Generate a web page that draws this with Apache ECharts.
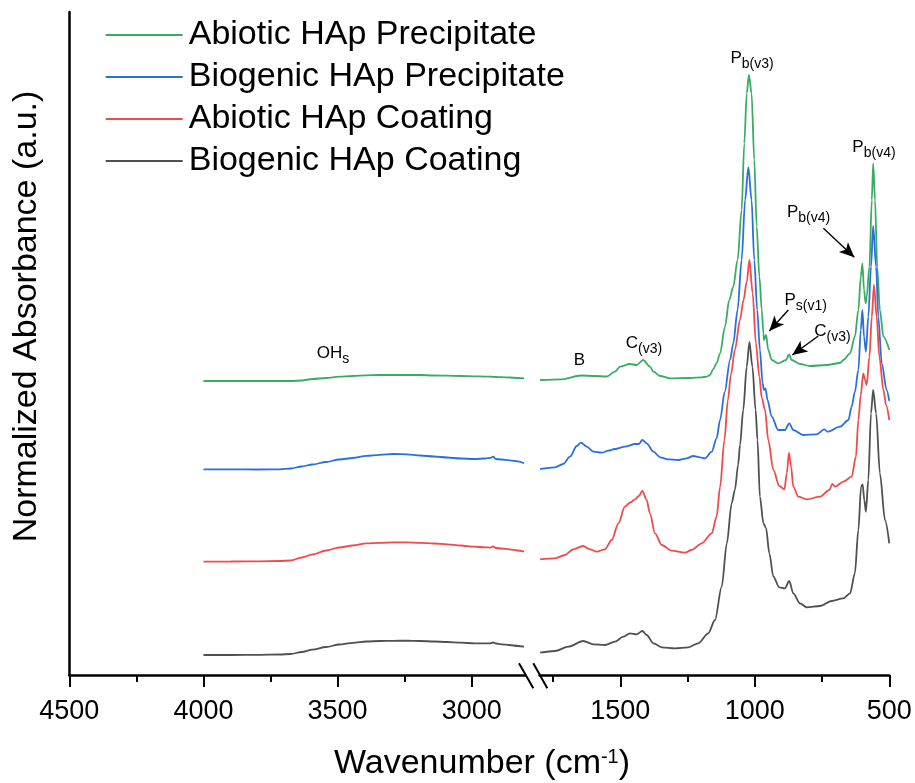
<!DOCTYPE html>
<html>
<head>
<meta charset="utf-8">
<script src="https://cdn.jsdelivr.net/npm/echarts@6/dist/echarts.min.js"></script>
<style>
  html, body { margin: 0; padding: 0; background: #ffffff; }
  #chart { width: 915px; height: 783px; }
</style>
</head>
<body>
<div id="chart"></div>
<script>
const FONT = "'Liberation Sans', Arial, Helvetica, sans-serif";

const seriesNames = ['Abiotic HAp Precipitate', 'Biogenic HAp Precipitate', 'Abiotic HAp Coating', 'Biogenic HAp Coating'];
const seriesColors = ['#38ad62', '#2a6fe0', '#f04a4a', '#505050'];

// O-H stretching window (4000-2800 cm-1): shared wavenumbers, stacked absorbance per sample
const highWavenumbers = [4000, 3896, 3796, 3715, 3675, 3634, 3594, 3543, 3494, 3443, 3393, 3343, 3293, 3242, 3192, 3141, 3091, 3041, 2990, 2950, 2930, 2920, 2910, 2889, 2859, 2828, 2805];
const highAbioticPrecipitate = [294, 294, 294, 294, 294, 294.5, 296, 297, 298.3, 299, 299.7, 300, 300, 300, 300, 299.5, 299.3, 299, 298.7, 298.4, 298.3, 298.2, 298, 297.8, 297.5, 297, 296.7];
const highBiogenicPrecipitate = [205.7, 205.7, 205.5, 205.7, 206.5, 208.5, 210.5, 213, 215.5, 217, 219.2, 220.2, 221, 220.7, 219.5, 218.5, 217.5, 216.5, 216, 216.5, 217.2, 218.3, 216, 215.5, 214.7, 213.7, 211.7];
const highAbioticCoating = [113.3, 113.5, 113.7, 114, 114.5, 117.5, 120.5, 124.5, 127.5, 129.5, 131.7, 132.2, 132.7, 132.7, 132.2, 131.5, 130.7, 129.5, 128.3, 127.7, 127.4, 128.5, 127, 126.5, 125.7, 124.5, 123.3];
const highBiogenicCoating = [20, 20, 20.2, 20.5, 21, 23, 25.3, 28, 30.5, 32.2, 33.5, 34, 34.2, 34.3, 34, 33.5, 33, 32.3, 31.7, 31.6, 31.7, 32.5, 31.5, 30.7, 30, 29, 28.3];

// fingerprint window (1800-500 cm-1): [wavenumber, stacked absorbance]
const lowAbioticPrecipitate = [
  [1798, 295], [1718, 295.7], [1646, 299.5], [1594, 299], [1551, 298.5], [1520, 303.3], [1501, 308.3], [1464, 311],
  [1439, 310], [1415, 315], [1390, 308.3], [1377, 303.3], [1352, 299], [1315, 296.7], [1241, 297], [1197, 297.7],
  [1179, 298.3], [1167, 300], [1154, 306], [1142, 312], [1129, 321.7], [1111, 348.3], [1095, 375], [1080, 388.3],
  [1064, 415], [1049, 465], [1039, 531.7], [1030, 581.7], [1022, 600], [1012, 581.7], [1002, 515], [993, 448.3],
  [983, 398.3], [974, 365], [968, 341.7], [966, 335], [958, 340], [950, 325], [937, 315], [913, 311.7],
  [884, 315], [873, 320.7], [863, 315], [832, 311], [795, 309], [733, 310], [683, 312], [671, 315],
  [646, 321.7], [628, 338.3], [615, 365], [606, 398.3], [600, 411.7], [594, 385], [588, 371.7], [584, 378.3],
  [574, 408.3], [565, 475], [560, 511.7], [553, 475], [545, 408.3], [535, 365], [522, 338.3], [500, 325]
];
const lowBiogenicPrecipitate = [
  [1798, 206], [1743, 207.7], [1712, 211], [1687, 218.3], [1662, 229], [1646, 232.3], [1625, 228.3], [1600, 223.3],
  [1569, 222.3], [1545, 224.3], [1520, 226], [1483, 228.3], [1445, 231], [1431, 231], [1418, 235], [1402, 231.7],
  [1377, 223.3], [1352, 217.7], [1322, 215.7], [1284, 215], [1253, 216.7], [1229, 219], [1204, 217.7], [1185, 216.7],
  [1160, 223.3], [1142, 236.7], [1129, 255], [1112, 283], [1092, 315], [1080, 331.7], [1064, 365], [1049, 415],
  [1036, 475], [1024, 507.7], [1012, 475], [1002, 415], [991, 365], [981, 325], [971, 291.7], [966, 285],
  [960, 286.5], [953, 275], [937, 258.3], [913, 245], [888, 245], [872, 251.7], [857, 245], [820, 240],
  [770, 240.7], [742, 245.7], [730, 243.3], [683, 248.3], [652, 255], [640, 268.3], [628, 283], [615, 305],
  [606, 345], [600, 365], [594, 338.3], [587, 323.3], [578, 358.3], [568, 408.3], [560, 449], [549, 408.3],
  [541, 358.3], [528, 311.7], [510, 285], [500, 274]
];
const lowAbioticCoating = [
  [1798, 115.7], [1743, 116.7], [1706, 120], [1675, 125.7], [1638, 129], [1613, 125.7], [1588, 123.3], [1557, 125.7],
  [1532, 135], [1507, 151.7], [1483, 168.3], [1464, 172.3], [1445, 175.7], [1431, 179], [1418, 184], [1402, 175],
  [1390, 161.7], [1371, 141.7], [1346, 130], [1309, 124.3], [1260, 122.3], [1235, 125], [1197, 131.7], [1160, 141.7],
  [1142, 158.3], [1129, 188.3], [1113, 235], [1100, 275], [1089, 300], [1074, 325], [1055, 355], [1042, 375],
  [1030, 393], [1020, 415], [1008, 381.7], [996, 331.7], [983, 298.3], [974, 277], [962, 265], [950, 235],
  [931, 205], [909, 189], [890, 185.7], [881, 201.7], [873, 222.3], [865, 208.3], [857, 188.3], [838, 178.3],
  [807, 175.7], [758, 178.3], [723, 185], [712, 191], [702, 188.3], [671, 193.3], [640, 198.3], [624, 218.3],
  [615, 255], [606, 280], [597, 301.7], [590, 295], [584, 290], [574, 318.3], [565, 358.3], [557, 390],
  [547, 358.3], [537, 318.3], [522, 285], [512, 270], [500, 255]
];
const lowBiogenicCoating = [
  [1798, 22.3], [1743, 24], [1693, 28.3], [1638, 34], [1600, 30.7], [1557, 30], [1520, 33.3], [1489, 38.3],
  [1464, 41.7], [1439, 40.7], [1418, 44], [1402, 40], [1377, 31.7], [1346, 27.7], [1297, 26.7], [1247, 27.7],
  [1210, 31.7], [1173, 41.7], [1148, 55], [1123, 88.3], [1104, 131.7], [1086, 171.7], [1074, 185], [1062, 210],
  [1055, 230], [1043, 265], [1030, 308.3], [1020, 333], [1009, 308.3], [997, 265], [990, 235], [981, 178.3],
  [968, 151.7], [958, 146.7], [946, 121.7], [931, 98.3], [909, 87.7], [888, 86.7], [872, 94], [857, 81.7],
  [832, 71.7], [807, 67.7], [758, 69], [714, 74], [671, 76.7], [646, 81.7], [628, 101.7], [615, 145],
  [605, 188.3], [599, 190.7], [593, 175], [587, 163.3], [578, 195], [568, 261.7], [560, 285], [549, 261.7],
  [535, 201.7], [516, 155], [500, 131.7]
];

const majorTicksHigh = [3000, 3500, 4000, 4500];
const minorTicksHigh = [3250, 3750, 4250];
const majorTicksLow = [500, 1000, 1500];
const minorTicksLow = [750, 1250, 1750];

// band assignments: [symbol, subscript, wavenumber, absorbance]
const highBandLabels = [['OH', 's', 3517, 321]];
const lowBandLabels = [
  ['B', '', 1652, 314],
  ['C', '(v3)', 1412, 331],
  ['P', 'b(v3)', 1010, 616],
  ['P', 's(v1)', 811, 374],
  ['C', '(v3)', 711, 343],
  ['P', 'b(v4)', 800, 462],
  ['P', 'b(v4)', 557, 527]
];
// pointer arrows: [from wavenumber, from absorbance, to wavenumber, to absorbance]
const bandArrows = [
  [745, 446.7, 630, 417.7],
  [875.5, 365, 946, 344],
  [764, 339, 860.6, 320]
];

const highSets = [highAbioticPrecipitate, highBiogenicPrecipitate, highAbioticCoating, highBiogenicCoating];
const lowSets = [lowAbioticPrecipitate, lowBiogenicPrecipitate, lowAbioticCoating, lowBiogenicCoating];

const labelRich = {
  m: { fontSize: 17, fontFamily: FONT, color: '#000', lineHeight: 19, verticalAlign: 'top' },
  s: { fontSize: 14, fontFamily: FONT, color: '#000', lineHeight: 13, verticalAlign: 'top', padding: [8, 0, 0, 0] }
};

function bandMarkPoint(list) {
  return {
    symbol: 'circle',
    symbolSize: 0,
    silent: true,
    label: { show: true, position: 'inside', color: '#000', rich: labelRich },
    data: list.map(b => ({
      coord: [b[2], b[3]],
      label: { formatter: b[1] ? '{m|' + b[0] + '}{s|' + b[1] + '}' : '{m|' + b[0] + '}' }
    }))
  };
}

const axisLineStyle = { color: '#000', width: 2.5 };
const tickLineStyle = { color: '#000', width: 2 };
const tickLabel = { fontSize: 27, color: '#000', fontFamily: FONT, margin: 23, formatter: v => String(v) };

function majorAxis(gridIndex, min, max, ticks) {
  return {
    gridIndex, type: 'value', inverse: true, min, max, position: 'bottom',
    axisLine: { show: true, onZero: false, lineStyle: axisLineStyle },
    axisTick: { show: true, length: 12, lineStyle: tickLineStyle, customValues: ticks },
    axisLabel: Object.assign({ show: true, customValues: ticks }, tickLabel),
    splitLine: { show: false },
    minorTick: { show: false }
  };
}
function minorAxis(gridIndex, min, max, ticks) {
  return {
    gridIndex, type: 'value', inverse: true, min, max, position: 'bottom',
    axisLine: { show: false, onZero: false },
    axisTick: { show: true, length: 7, lineStyle: tickLineStyle, customValues: ticks },
    axisLabel: { show: false },
    splitLine: { show: false }
  };
}

const series = [];
seriesNames.forEach((name, i) => {
  const common = {
    name, type: 'line', symbol: 'none', showSymbol: false,
    color: seriesColors[i],
    lineStyle: { color: seriesColors[i], width: 1.8 },
    smooth: 0.3, smoothMonotone: 'x',
    emphasis: { disabled: true }, silent: true, animation: false
  };
  const high = Object.assign({}, common, {
    xAxisIndex: 0, yAxisIndex: 0,
    data: highWavenumbers.map((w, k) => [w, highSets[i][k]])
  });
  const low = Object.assign({}, common, {
    xAxisIndex: 2, yAxisIndex: 1,
    data: lowSets[i]
  });
  if (i === 0) {
    high.markPoint = bandMarkPoint(highBandLabels);
    low.markPoint = bandMarkPoint(lowBandLabels);
    low.markLine = {
      silent: true, animation: false,
      symbol: ['none', 'arrow'], symbolSize: [10, 15],
      lineStyle: { color: '#000', width: 1.4, type: 'solid' },
      label: { show: false },
      emphasis: { disabled: true },
      data: bandArrows.map(a => [{ coord: [a[0], a[1]] }, { coord: [a[2], a[3]] }])
    };
  }
  series.push(high, low);
});

const option = {
  animation: false,
  backgroundColor: '#ffffff',
  grid: [
    { left: 69.3, right: 389.6, top: 12, bottom: 108, containLabel: false, outerBoundsMode: 'none' },
    { left: 539.6, right: 25.7, top: 12, bottom: 108, containLabel: false, outerBoundsMode: 'none' }
  ],
  xAxis: [
    majorAxis(0, 2800, 4500, majorTicksHigh),
    minorAxis(0, 2800, 4500, minorTicksHigh),
    majorAxis(1, 500, 1800, majorTicksLow),
    minorAxis(1, 500, 1800, minorTicksLow)
  ],
  yAxis: [
    {
      gridIndex: 0, type: 'value', min: 0, max: 663,
      axisLine: { show: true, onZero: false, lineStyle: axisLineStyle },
      axisTick: { show: false }, axisLabel: { show: false }, splitLine: { show: false }
    },
    { gridIndex: 1, type: 'value', min: 0, max: 663, show: false, splitLine: { show: false } }
  ],
  legend: {
    data: seriesNames,
    orient: 'vertical',
    left: 100.7, top: 13,
    icon: 'rect', itemWidth: 77, itemHeight: 2, itemGap: 8,
    itemStyle: { borderWidth: 0 },
    selectedMode: false,
    textStyle: { fontSize: 34, color: '#000', fontFamily: FONT, padding: [0, 0, 0, 1] }
  },
  graphic: [
    // axis break marks
    { type: 'line', z: 100, silent: true, shape: { x1: 519, y1: 663.3, x2: 533.3, y2: 688.3 }, style: { stroke: '#000', lineWidth: 2 } },
    { type: 'line', z: 100, silent: true, shape: { x1: 533.3, y1: 663.3, x2: 547.3, y2: 688.3 }, style: { stroke: '#000', lineWidth: 2 } },
    {
      type: 'text', z: 100, silent: true, x: 482, y: 767,
      style: {
        text: '{t|Wavenumber (cm}{sup|-1}{t|)}',
        fill: '#000',
        align: 'center', verticalAlign: 'middle', textAlign: 'center', textVerticalAlign: 'middle',
        rich: {
          t: { fontSize: 34, fontFamily: FONT, fill: '#000', lineHeight: 40, verticalAlign: 'top' },
          sup: { fontSize: 20, fontFamily: FONT, fill: '#000', lineHeight: 20, verticalAlign: 'top' }
        }
      }
    },
    {
      type: 'text', z: 100, silent: true, x: 27, y: 316.5, rotation: Math.PI / 2,
      style: {
        text: 'Normalized Absorbance (a.u.)',
        fontSize: 34, fontFamily: FONT, fill: '#000',
        align: 'center', verticalAlign: 'middle', textAlign: 'center', textVerticalAlign: 'middle'
      }
    }
  ],
  series
};

const chart = echarts.init(document.getElementById('chart'), null, { renderer: 'canvas' });
chart.setOption(option);
</script>
</body>
</html>
